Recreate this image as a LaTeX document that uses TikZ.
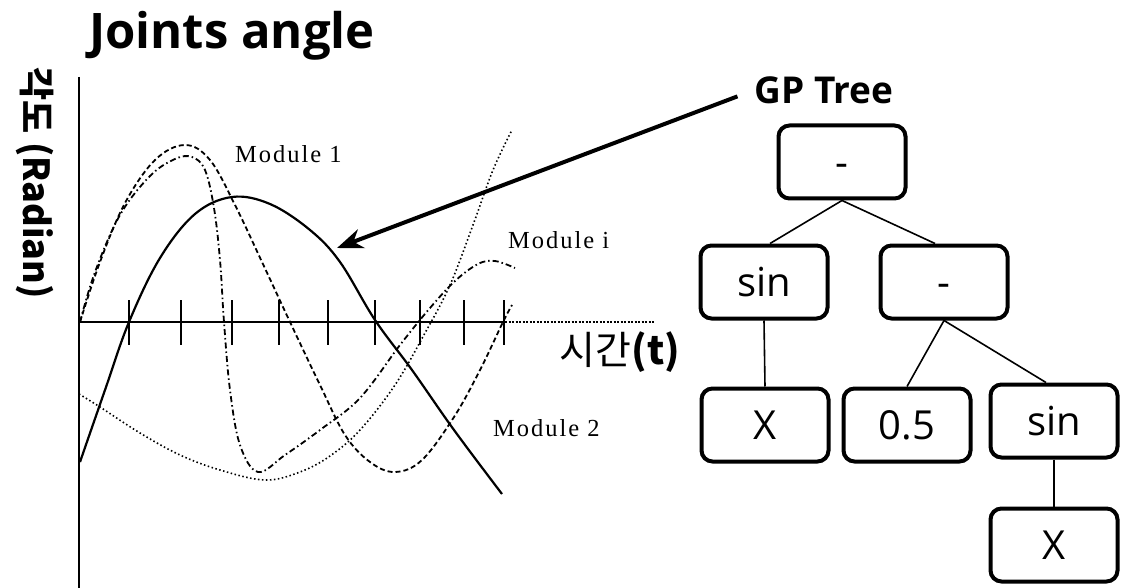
\documentclass[tikz,border=0pt]{standalone}
\usepackage{fontspec}
\setmainfont{Liberation Serif}
\newfontfamily\sansf{Open Sans}
\newfontfamily\kr{Noto Sans CJK KR}
\newfontfamily\modf[LetterSpace=8]{Liberation Serif}
\usetikzlibrary{arrows.meta}
\tikzset{
  treebox/.style={draw, line width=4pt, rounded corners=11pt, minimum width=127pt, minimum height=73pt, inner sep=0pt, text height=29pt, text depth=0pt, font=\sansf\fontsize{40}{40}\selectfont},
  treeedge/.style={line width=1.6pt},
  modlabel/.style={font=\modf\fontsize{24.5}{24.5}\selectfont, inner sep=0pt},
  axisline/.style={line width=2.2pt},
  tickline/.style={line width=2pt},
  curveA/.style={line width=2.2pt},
  curveB/.style={line width=1.8pt, dash pattern=on 5pt off 3pt},
  curveC/.style={line width=1.8pt, dash pattern=on 6pt off 3pt on 1.5pt off 3pt},
  curveD/.style={line width=1.6pt, dash pattern=on 1.5pt off 2.5pt},
}
\begin{document}
\begin{tikzpicture}[x=1pt,y=-1pt]
\useasboundingbox (0,0) rectangle (1124,588);
% title
\node[font=\sansf\bfseries\fontsize{49}{49}\selectfont, inner sep=0pt] (title) at (232,36) {Joints angle};
% axes
\coordinate (yt) at (79,77);
\coordinate (yb) at (79,588);
\coordinate (o) at (79,322);
\coordinate (xe) at (505,322);
\coordinate (xd) at (655,322);
\draw[axisline] (yt) -- (yb);
\draw[axisline] (o) -- (xe);
\draw[line width=2pt, dash pattern=on 2pt off 1.5pt] (xe) -- (xd);
\foreach \x in {129,181,232,279,328,375,420,464,504}{
  \draw[tickline] (\x,300) -- (\x,345);
}
% axis labels
\node[font=\kr\bfseries\fontsize{36}{36}\selectfont, rotate=-90, inner sep=0pt] (ylab) at (35,183) {각도 (Radian)};
\node[font=\kr\fontsize{39}{39}\selectfont, inner sep=0pt] (xlab) at (620,352) {시간\textbf{(t)}};
% curves
\draw[curveA] plot[smooth, tension=0.6] coordinates {(80,462) (105,390) (129,322) (160,258) (195,214) (232,197) (270,204) (310,230) (340,262) (375,320) (412,370) (454,430) (502,494)};
\draw[curveB] plot[smooth, tension=0.6] coordinates {(80,322) (100,262) (125,203) (155,160) (185,145) (210,160) (235,205) (262,262) (290,322) (320,385) (345,435) (370,462) (395,472) (422,460) (454,417) (480,370) (503,322) (512,305)};
\draw[curveC] plot[smooth, tension=0.6] coordinates {(80,322) (95,272) (120,215) (150,176) (175,159) (192,157) (205,170) (214,208) (220,260) (224,322) (230,390) (240,445) (258,472) (285,455) (320,430) (360,398) (400,345) (430,308) (455,281) (478,264) (495,261) (515,268)};
\draw[curveD] plot[smooth, tension=0.6] coordinates {(79,394) (100,407) (140,433) (180,455) (220,470) (265,480) (300,472) (330,456) (360,430) (395,385) (425,333) (450,285) (473,225) (493,170) (512,130)};
% module labels
\node[modlabel, anchor=west] (m1) at (235,154) {Module 1};
\node[modlabel, anchor=west] (mi) at (508,240) {Module i};
\node[modlabel, anchor=west] (m2) at (493,428) {Module 2};
% GP tree
\node[font=\sansf\bfseries\fontsize{37}{37}\selectfont, inner sep=0pt] (gp) at (824,90) {GP Tree};
\coordinate (tip) at (337,248);
\draw[line width=4pt, shorten <=18pt, -{Stealth[length=26pt,width=20pt]}] (gp.west) -- (tip);
\node[treebox] (root) at (842,162) {-};
\node[treebox] (sinL) at (764,282) {sin};
\node[treebox] (minR) at (944,282) {-};
\node[treebox] (xL) at (765,425) {X};
\node[treebox] (half) at (907,425) {0.5};
\node[treebox] (sinR) at (1054,421) {sin};
\node[treebox] (xB) at (1054,545) {X};
\draw[treeedge] (root.south) -- ([xshift=6pt]sinL.north);
\draw[treeedge] (root.south) -- ([xshift=-9pt]minR.north);
\draw[treeedge] (sinL.south) -- (xL.north);
\draw[treeedge] (minR.south) -- (half.north);
\draw[treeedge] (minR.south) -- ([xshift=-8pt]sinR.north);
\draw[treeedge] (sinR.south) -- (xB.north);
\end{tikzpicture}
\end{document}
